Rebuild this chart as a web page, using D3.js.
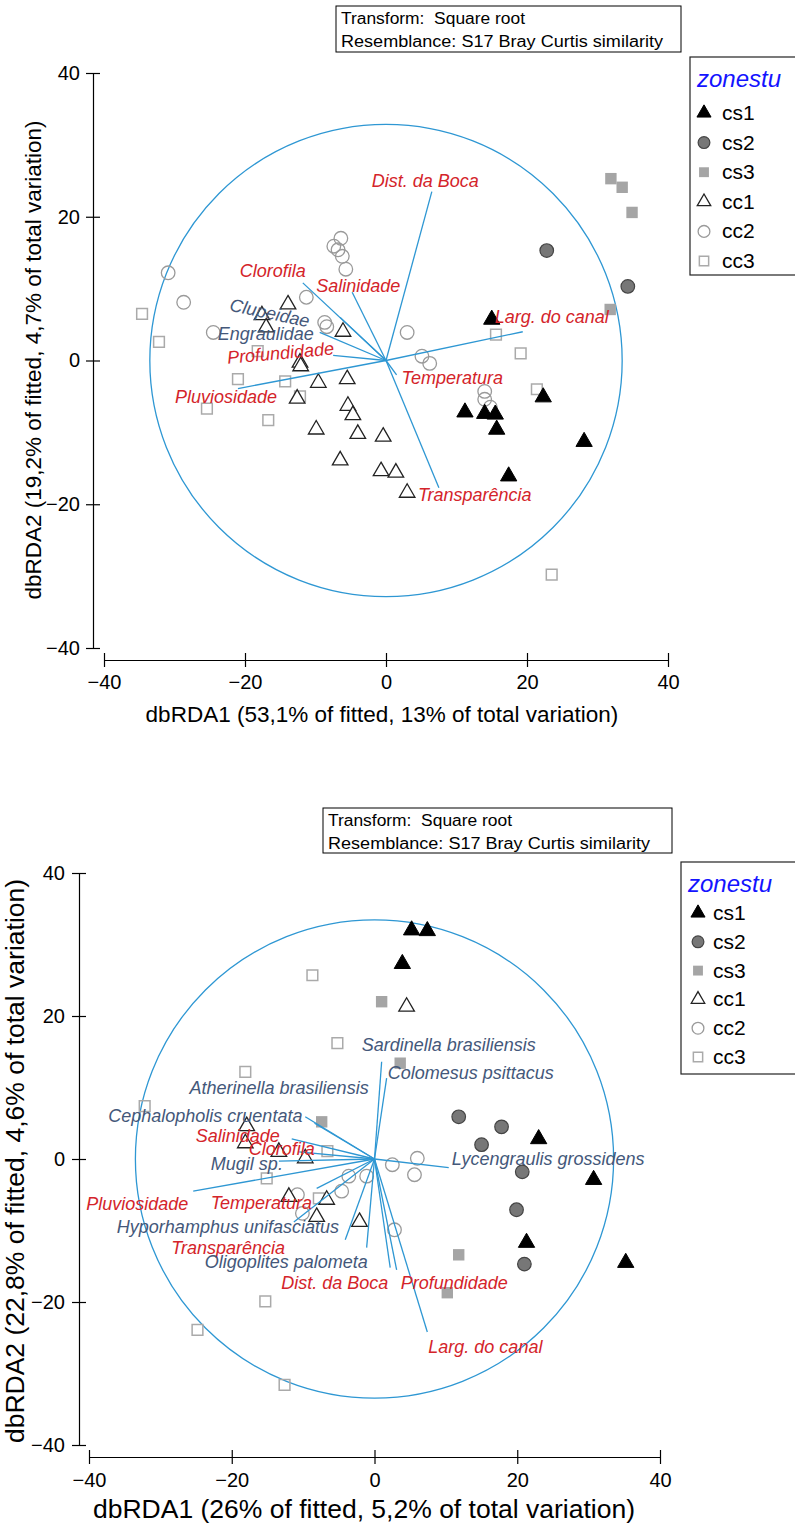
<!DOCTYPE html>
<html><head><meta charset="utf-8">
<script src="https://cdn.jsdelivr.net/npm/d3@7"></script>
<style>body{margin:0;background:#fff} svg{display:block} text{font-family:"Liberation Sans",Arial,sans-serif}</style>
</head><body>
<svg id="chart" width="795" height="1525"></svg>
<script>
// ---------------- DATA ----------------
const tickValues = [-40, -20, 0, 20, 40];
const zoneNames = ["cs1", "cs2", "cs3", "cc1", "cc2", "cc3"];
const legendTitle = "zonestu";
const noteLines = ["Transform:  Square root", "Resemblance: S17 Bray Curtis similarity"];

// Panel 1 (families)
const top_xTitle = "dbRDA1 (53,1% of fitted, 13% of total variation)";
const top_yTitle = "dbRDA2 (19,2% of fitted, 4,7% of total variation)";
const top_cs1 = [[15.0,5.7],[11.2,-7.2],[14.0,-7.4],[15.5,-7.5],[15.7,-9.6],[22.3,-5.1],[28.1,-11.3],[17.4,-16.1]];
const top_cs2 = [[22.8,15.3],[34.3,10.3]];
const top_cs3 = [[31.9,25.3],[33.5,24.1],[34.9,20.6],[31.8,7.1]];
const top_cc1 = [[-13.9,7.8],[-17.6,6.3],[-17.0,4.6],[-6.1,4.0],[-12.2,-0.3],[-12.1,-0.8],[-9.6,-3.1],[-5.5,-2.6],[-12.6,-5.3],[-5.4,-6.3],[-4.7,-7.6],[-9.9,-9.6],[-4.0,-10.2],[-0.4,-10.6],[-6.5,-13.9],[-0.7,-15.4],[1.4,-15.6],[3.0,-18.4]];
const top_cc2 = [[-30.9,12.2],[-28.7,8.1],[-11.3,8.8],[-6.4,17.0],[-7.4,15.9],[-6.8,15.4],[-6.2,14.5],[-5.7,12.7],[-24.5,3.9],[-8.7,5.3],[-8.4,4.7],[3.0,3.9],[5.1,0.6],[6.2,-0.4],[14.0,-4.3],[14.0,-5.4],[14.8,-6.5]];
const top_cc3 = [[-34.6,6.5],[-32.2,2.6],[-18.2,1.3],[-21.0,-2.6],[-14.3,-2.9],[-12.2,-5.0],[-25.4,-6.7],[-16.7,-8.3],[15.6,3.6],[19.1,1.0],[21.4,-4.0],[23.5,-29.8]];
const top_circleRadius = 33.5;
const top_vecNames = ["Dist. da Boca","Larg. do canal","Salinidade","Clorofila","Clupeidae","Engraulidae","Profundidade","Pluviosidade","Temperatura","Transparência"];
const top_vecX = [6.5, 19.4, -4.8, -11.8, -6.5, -9.4, -7.5, -21.0, 1.5, 7.5];
const top_vecY = [23.5, 4.0, 9.5, 10.8, 6.0, 3.9, 0.7, -3.9, -2.0, -17.7];
const top_vecKind = ["env","env","env","env","sp","sp","env","env","env","env"];

// Panel 2 (species)
const bot_xTitle = "dbRDA1 (26% of fitted, 5,2% of total variation)";
const bot_yTitle = "dbRDA2 (22,8% of fitted, 4,6% of total variation)";
const bot_cs1 = [[5.2,32.0],[7.4,31.9],[3.9,27.3],[23.0,2.8],[30.7,-2.9],[21.3,-11.7],[35.2,-14.5]];
const bot_cs2 = [[11.8,5.9],[17.8,4.5],[15.0,2.0],[20.7,-1.8],[19.9,-7.1],[21.0,-14.7]];
const bot_cs3 = [[1.0,22.0],[3.6,13.4],[-7.4,5.2],[11.8,-13.4],[10.2,-18.7]];
const bot_cc1 = [[4.5,21.3],[-17.9,4.6],[-18.1,2.2],[-13.4,1.0],[-9.7,0.1],[-12.0,-5.3],[-6.7,-5.7],[-8.1,-8.1],[-2.1,-8.8]];
const bot_cc2 = [[-3.6,-2.4],[-1.1,-2.4],[2.5,-0.8],[6.0,0.1],[5.6,-2.2],[-4.6,-4.5],[-10.8,-5.0],[-10.1,-7.6],[2.8,-9.9]];
const bot_cc3 = [[-8.7,25.7],[-5.2,16.2],[-18.1,12.2],[-32.2,7.4],[-6.6,1.1],[-15.1,-2.7],[-7.8,-5.5],[-15.3,-19.9],[-24.8,-23.9],[-12.6,-31.6]];
const bot_circleRadius = 33.5;
const bot_vecNames = ["Sardinella brasiliensis","Colomesus psittacus","Atherinella brasiliensis","Cephalopholis cruentata","Salinidade","Clorofila","Mugil sp.","Pluviosidade","Temperatura","Hyporhamphus unifasciatus","Transparência","Oligoplites palometa","Dist. da Boca","Profundidade","Larg. do canal","Lycengraulis grossidens"];
const bot_vecX = [1.0, 1.7, -8.4, -9.7, -11.6, -10.6, -13.4, -25.4, -8.1, -11.3, -4.1, -1.1, 2.2, 3.1, 7.4, 10.4];
const bot_vecY = [13.6, 11.3, 5.0, 5.9, 2.8, 1.0, -0.3, -4.5, -4.1, -8.8, -11.3, -12.4, -15.2, -15.5, -24.2, -1.2];
const bot_vecKind = ["sp","sp","sp","sp","env","env","sp","env","env","sp","env","sp","env","env","env","sp"];

// ---------------- LAYOUT / STYLE ----------------
const top_labelOffset = [[-60,-11],[-28,-15],[-36,-7],[-63,-12],[-110,-13],[-102,1],[-106,2],[-63,8],[5,3],[-21,7]];
const top_labelRotate = [0,0,0,0,12,0,-5,0,0,0];
const bot_labelOffset = [[-20,-17],[1,-6],[-125,-36],[-197,-1],[-96,-3],[-50,-3],[-68,3],[-107,13],[-106,14],[-177,5],[-174,8],[-162,14],[-109,15],[4,13],[1,15],[3,-9]];
const bot_labelRotate = new Array(16).fill(0);

const colors = {vec:"#2e97d3", env:"#d4242a", sp:"#44587a"};
const zoneStyle = {
  cs1:{type:d3.symbolTriangle, size:115, fill:"#000", stroke:"#000", sw:1},
  cs2:{type:d3.symbolCircle, size:145, fill:"#777", stroke:"#444", sw:1.2},
  cs3:{type:d3.symbolSquare, size:130, fill:"#a5a5a5", stroke:"none", sw:0},
  cc1:{type:d3.symbolTriangle, size:105, fill:"#fff", stroke:"#222", sw:1.3},
  cc2:{type:d3.symbolCircle, size:145, fill:"none", stroke:"#9a9a9a", sw:1.3},
  cc3:{type:d3.symbolSquare, size:115, fill:"none", stroke:"#aaa", sw:1.5}
};

const svg = d3.select("#chart");

function drawPanel(p) {
  const x = d3.scaleLinear().domain([-40,40]).range(p.xRange);
  const y = d3.scaleLinear().domain([-40,40]).range(p.yRange);
  const g = svg.append("g");

  // note box
  g.append("rect").attr("x",p.note[0]).attr("y",p.note[1]).attr("width",p.note[2]).attr("height",p.note[3])
    .attr("fill","#fff").attr("stroke","#000").attr("stroke-width",1);
  noteLines.forEach((t,i)=>{
    g.append("text").attr("x",p.note[0]+5).attr("y",p.note[1]+18+i*23).text(t)
      .attr("font-size",16).style("white-space","pre")
      .attr("textLength", i===0?p.noteLen[0]:p.noteLen[1]).attr("lengthAdjust","spacingAndGlyphs");
  });

  // axes
  const ax = d3.axisBottom(x).tickValues(tickValues).tickSizeOuter(0).tickSizeInner(7).tickFormat(d3.format("d"));
  const ay = d3.axisLeft(y).tickValues(tickValues).tickSizeOuter(0).tickSizeInner(7).tickFormat(d3.format("d"));
  const gx = g.append("g").attr("transform",`translate(0,${p.xAxisY})`).call(ax);
  const gy = g.append("g").attr("transform",`translate(${p.yAxisX},0)`).call(ay);
  [gx,gy].forEach(a=>{
    a.select(".domain").attr("stroke","#000").attr("stroke-width",1.2);
    a.selectAll(".tick line").attr("stroke","#000").attr("stroke-width",1.2);
    a.selectAll(".tick text").attr("font-size",p.tickFont).attr("fill","#000").attr("font-family","Liberation Sans, Arial, sans-serif");
  });
  gx.selectAll(".tick line").attr("y1",-7).attr("y2",7);
  gx.selectAll(".tick text").attr("y",p.xTickDy);
  gy.selectAll(".tick line").attr("x1",-7).attr("x2",7);
  gy.selectAll(".tick text").attr("x",p.yTickDx);

  g.append("text").attr("x",p.xTitlePos[0]).attr("y",p.xTitlePos[1]).attr("text-anchor","middle")
    .attr("font-size",p.titleFont).text(p.xTitle);
  g.append("text").attr("transform",`translate(${p.yTitlePos[0]},${p.yTitlePos[1]}) rotate(-90)`)
    .attr("text-anchor","middle").attr("font-size",p.titleFont).text(p.yTitle);

  // correlation circle
  g.append("circle").attr("cx",x(0)).attr("cy",y(0)).attr("r",x(p.circleR)-x(0))
    .attr("fill","none").attr("stroke",colors.vec).attr("stroke-width",1.3);

  // points
  const order = ["cc3","cc2","cc1","cs3","cs2","cs1"];
  order.forEach(z=>{
    const st = zoneStyle[z];
    g.selectAll(null).data(p.points[z]).enter().append("path")
      .attr("d", d3.symbol().type(st.type).size(st.size)())
      .attr("transform", d=>`translate(${x(d[0])},${y(d[1])})`)
      .attr("fill",st.fill).attr("stroke",st.stroke).attr("stroke-width",st.sw);
  });

  // vectors
  p.vecNames.forEach((n,i)=>{
    g.append("line").attr("x1",x(0)).attr("y1",y(0)).attr("x2",x(p.vecX[i])).attr("y2",y(p.vecY[i]))
      .attr("stroke",colors.vec).attr("stroke-width",1.3);
  });
  p.vecNames.forEach((n,i)=>{
    const lx = x(p.vecX[i]) + p.labelOffset[i][0], ly = y(p.vecY[i]) + p.labelOffset[i][1];
    g.append("text").attr("transform",`translate(${lx},${ly}) rotate(${p.labelRotate[i]})`)
      .attr("dy","0.35em").attr("font-size",18).attr("font-style","italic")
      .attr("fill", p.vecKind[i]==="env"?colors.env:colors.sp).text(n);
  });

  // legend
  const L = p.legend;
  g.append("rect").attr("x",L.x).attr("y",L.y).attr("width",L.w).attr("height",L.h)
    .attr("fill","#fff").attr("stroke","#222").attr("stroke-width",1.2);
  g.append("text").attr("x",L.x+7).attr("y",L.y+30).attr("font-size",24).attr("font-style","italic")
    .attr("fill","#1414ff").text(legendTitle);
  zoneNames.forEach((z,i)=>{
    const cy = L.y0 + i*L.step;
    const st = zoneStyle[z];
    g.append("path").attr("d", d3.symbol().type(st.type).size(st.size*0.75)())
      .attr("transform",`translate(${L.sx},${cy})`)
      .attr("fill",st.fill).attr("stroke",st.stroke).attr("stroke-width",st.sw);
    g.append("text").attr("x",L.tx).attr("y",cy+7).attr("font-size",21).text(z);
  });
}

drawPanel({
  xRange:[104,668], yRange:[648,73], xAxisY:660, yAxisX:93,
  tickFont:20, titleFont:22.5, xTickDy:15, yTickDx:-13,
  xTitle:top_xTitle, yTitle:top_yTitle, xTitlePos:[382,722], yTitlePos:[41,360],
  note:[336,6,345,46], noteLen:[184,322],
  circleR:top_circleRadius,
  points:{cs1:top_cs1,cs2:top_cs2,cs3:top_cs3,cc1:top_cc1,cc2:top_cc2,cc3:top_cc3},
  vecNames:top_vecNames, vecX:top_vecX, vecY:top_vecY, vecKind:top_vecKind,
  labelOffset:top_labelOffset, labelRotate:top_labelRotate,
  legend:{x:690,y:57,w:115,h:218,y0:113,step:29.6,sx:704,tx:722}
});
drawPanel({
  xRange:[89,660], yRange:[1445,873], xAxisY:1457, yAxisX:79,
  tickFont:20, titleFont:26.5, xTickDy:16, yTickDx:-14,
  xTitle:bot_xTitle, yTitle:bot_yTitle, xTitlePos:[364,1518], yTitlePos:[24,1161],
  note:[323,808,349,45], noteLen:[184,322],
  circleR:bot_circleRadius,
  points:{cs1:bot_cs1,cs2:bot_cs2,cs3:bot_cs3,cc1:bot_cc1,cc2:bot_cc2,cc3:bot_cc3},
  vecNames:bot_vecNames, vecX:bot_vecX, vecY:bot_vecY, vecKind:bot_vecKind,
  labelOffset:bot_labelOffset, labelRotate:bot_labelRotate,
  legend:{x:681,y:862,w:125,h:212,y0:913,step:28.8,sx:698,tx:713}
});
</script>
</body></html>
